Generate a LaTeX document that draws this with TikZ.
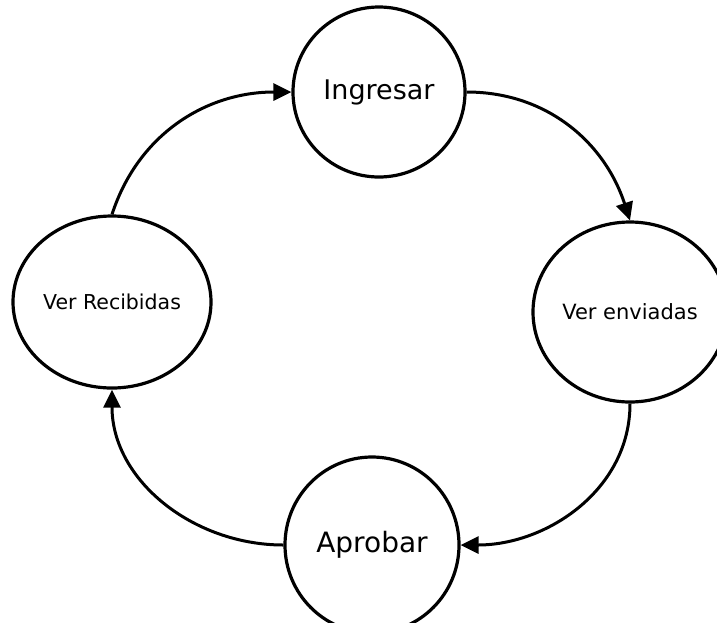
\documentclass[tikz,border=0pt]{standalone}
\usepackage{fontspec}
\setmainfont{DejaVu Sans}
\usetikzlibrary{arrows.meta,shapes.geometric}
\tikzset{
  estado/.style={draw, ellipse, line width=3.2pt, inner sep=0pt},
  flecha/.style={line width=3pt, -{Triangle[length=18pt,width=17pt]}},
}

\begin{document}
\begin{tikzpicture}[x=1pt, y=1pt]
  \useasboundingbox (0, 0) rectangle (717, -622);

  % estados
  \node[estado, minimum width=172pt, minimum height=170pt, font=\fontsize{27}{30}\selectfont] (ingresar) at (379, -92) {Ingresar};
  \node[estado, minimum width=194pt, minimum height=180pt, font=\fontsize{21}{24}\selectfont] (enviadas) at (630, -312) {Ver enviadas};
  \node[estado, minimum width=174pt, minimum height=176pt, font=\fontsize{28}{32}\selectfont] (aprobar) at (372, -545) {Aprobar};
  \node[estado, minimum width=198pt, minimum height=172pt, font=\fontsize{20.5}{24}\selectfont] (recibidas) at (112, -302) {Ver Recibidas};

  % transiciones
  \draw[flecha] (ingresar.east) to[out=0, in=108] (enviadas.north);
  \draw[flecha] (enviadas.south) to[out=-90, in=0] (aprobar.east);
  \draw[flecha] (aprobar.west) to[out=180, in=-90] (recibidas.south);
  \draw[flecha] (recibidas.north) to[out=72, in=180] (ingresar.west);
\end{tikzpicture}
\end{document}
